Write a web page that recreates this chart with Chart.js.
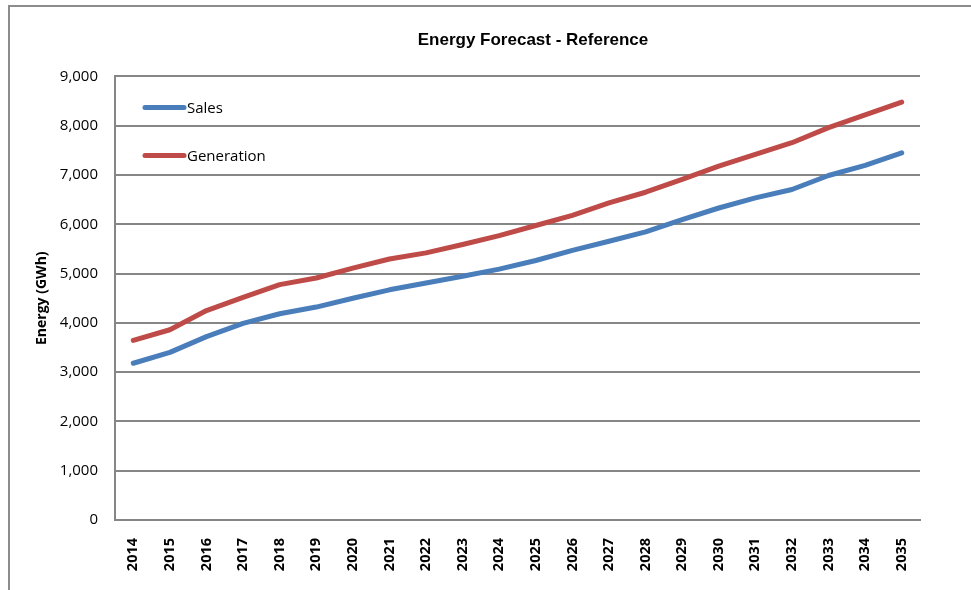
<!DOCTYPE html>
<html>
<head>
<meta charset="utf-8">
<title>Energy Forecast - Reference</title>
<script src="https://cdn.jsdelivr.net/npm/chart.js@4"></script>
<style>
  html, body { margin: 0; padding: 0; background: #fff; overflow: hidden; }
  #frame {
    position: absolute; left: 8px; top: 5px; width: 1000px; height: 620px;
    border-top: 2px solid #8c8c8c; border-left: 2px solid #8c8c8c;
  }
  #chart { position: absolute; left: 0; top: 0; }
</style>
</head>
<body>
<div id="frame"></div>
<canvas id="chart" width="1066" height="590"></canvas>
<script>
// Данные прогноза
const years = ['2014', '2015', '2016', '2017', '2018', '2019', '2020', '2021', '2022', '2023', '2024',
  '2025', '2026', '2027', '2028', '2029', '2030', '2031', '2032', '2033', '2034', '2035'];
const sales = [3180, 3400, 3720, 3990, 4185, 4320, 4500, 4670, 4810, 4945, 5090,
  5265, 5470, 5655, 5845, 6095, 6330, 6535, 6705, 6990, 7195, 7450];
const generation = [3645, 3860, 4250, 4515, 4775, 4910, 5110, 5295, 5420, 5590, 5770,
  5975, 6180, 6435, 6650, 6910, 7180, 7420, 7655, 7960, 8220, 8480];
const yTicks = [0, 1000, 2000, 3000, 4000, 5000, 6000, 7000, 8000, 9000];

const GRID = '#868686';

// Легенда внутри области графика (как в Excel)
const insideLegend = {
  id: 'insideLegend',
  afterDraw(chart) {
    const { ctx, chartArea } = chart;
    ctx.save();
    ctx.font = '15px "Open Sans"';
    ctx.textBaseline = 'middle';
    chart.data.datasets.forEach((ds, i) => {
      const y = chartArea.top + 31 + i * 48;
      const x = chartArea.left + 30;
      ctx.strokeStyle = ds.borderColor;
      ctx.lineWidth = 5;
      ctx.lineCap = 'round';
      ctx.beginPath();
      ctx.moveTo(x, y);
      ctx.lineTo(x + 39, y);
      ctx.stroke();
      ctx.fillStyle = '#000';
      ctx.fillText(ds.label, x + 42, y + 1);
    });
    ctx.restore();
  },
};

new Chart(document.getElementById('chart'), {
  type: 'line',
  data: {
    labels: years,
    datasets: [
      { label: 'Sales', data: sales, borderColor: '#4A7EBB', borderWidth: 5, pointRadius: 0, tension: 0, borderCapStyle: 'round', borderJoinStyle: 'round' },
      { label: 'Generation', data: generation, borderColor: '#BE4B48', borderWidth: 5, pointRadius: 0, tension: 0, borderCapStyle: 'round', borderJoinStyle: 'round' },
    ],
  },
  options: {
    responsive: false,
    animation: false,
    layout: { padding: 0 },
    plugins: {
      legend: { display: false },
      tooltip: { enabled: false },
      title: {
        display: true,
        text: 'Energy Forecast - Reference',
        color: '#000',
        font: { family: '"Liberation Sans", Arial, sans-serif', size: 17, weight: 'bold' },
        padding: { top: 30, bottom: 26 },
      },
    },
    scales: {
      x: {
        offset: true,
        grid: { display: false },
        border: { display: true, color: GRID, width: 2 },
        ticks: {
          color: '#000',
          autoSkip: false,
          minRotation: 90,
          maxRotation: 90,
          padding: 10,
          font: { family: '"Open Sans"', size: 14.5, weight: 'bold' },
        },
        afterFit: s => { s.height = 70; },
      },
      y: {
        min: 0,
        max: 9000,
        afterBuildTicks: s => { s.ticks = yTicks.map(v => ({ value: v })); },
        grid: { color: GRID, lineWidth: 2, drawTicks: false },
        border: { display: true, color: GRID, width: 2 },
        ticks: {
          color: '#000',
          padding: 17,
          font: { family: '"Open Sans"', size: 15 },
          callback: v => v.toLocaleString('en-US'),
        },
        title: {
          display: true,
          text: 'Energy (GWh)',
          color: '#000',
          font: { family: '"Open Sans"', size: 14, weight: 'bold' },
          padding: { top: 34, bottom: 0 },
        },
        afterFit: s => { s.width = 115; },
      },
      // пустая правая ось: держит правый край области графика
      yRight: {
        position: 'right',
        min: 0,
        max: 9000,
        grid: { display: false },
        border: { display: false },
        ticks: { display: false },
        afterFit: s => { s.width = 146; },
      },
    },
  },
  plugins: [insideLegend],
});
</script>
</body>
</html>
